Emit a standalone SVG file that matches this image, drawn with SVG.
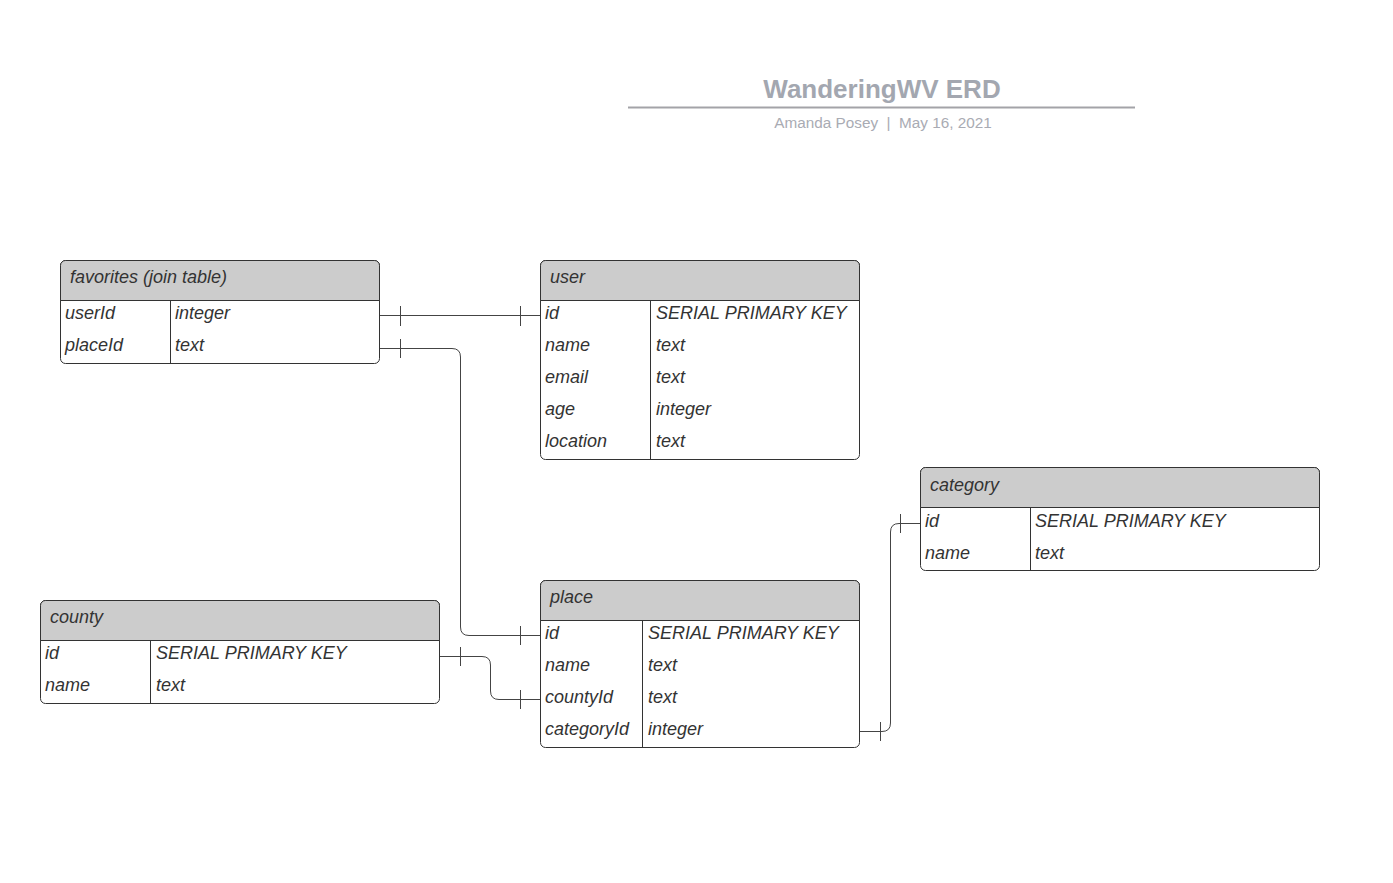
<svg xmlns="http://www.w3.org/2000/svg" width="1393" height="883" viewBox="0 0 1393 883">
<style>
.frame{fill:#ffffff;stroke:#333333;stroke-width:1}
.hdr{fill:#cccccc;stroke:#333333;stroke-width:1}
.div{stroke:#333333;stroke-width:1;fill:none}
.t{font-family:"Liberation Sans",Arial,sans-serif;font-style:italic;font-size:18px;fill:#333333}
.conn{fill:none;stroke:#444444;stroke-width:1}
.title{font-family:"Liberation Sans",Arial,sans-serif;font-weight:bold;font-size:26px;fill:#a3a7b0}
.sub{font-family:"Liberation Sans",Arial,sans-serif;font-size:15.3px;fill:#a9abb3}
</style>
<rect width="1393" height="883" fill="#ffffff"/>
<g id="title">
<text class="title" x="882" y="98" text-anchor="middle">WanderingWV ERD</text>
<line x1="628" y1="107.5" x2="1135" y2="107.5" stroke="#a3a3a8" stroke-width="2"/>
<text class="sub" x="883" y="128" text-anchor="middle" xml:space="preserve">Amanda Posey  |  May 16, 2021</text>
</g>
<g id="favorites">
<rect class="frame" x="60.5" y="260.5" width="319" height="103" rx="5"/>
<path class="hdr" d="M60.5,300.5 V265.5 a5,5 0 0 1 5,-5 H374.5 a5,5 0 0 1 5,5 V300.5 Z"/>
<line class="div" x1="170.5" y1="300.5" x2="170.5" y2="363.5"/>
<text class="t" x="70" y="283">favorites (join table)</text>
<text class="t" x="65" y="319">userId</text><text class="t" x="175" y="319">integer</text>
<text class="t" x="65" y="351">placeId</text><text class="t" x="175" y="351">text</text>
</g>
<g id="user">
<rect class="frame" x="540.5" y="260.5" width="319" height="199" rx="5"/>
<path class="hdr" d="M540.5,300.5 V265.5 a5,5 0 0 1 5,-5 H854.5 a5,5 0 0 1 5,5 V300.5 Z"/>
<line class="div" x1="650.5" y1="300.5" x2="650.5" y2="459.5"/>
<text class="t" x="550" y="283">user</text>
<text class="t" x="545" y="319">id</text><text class="t" x="656" y="319">SERIAL PRIMARY KEY</text>
<text class="t" x="545" y="351">name</text><text class="t" x="656" y="351">text</text>
<text class="t" x="545" y="383">email</text><text class="t" x="656" y="383">text</text>
<text class="t" x="545" y="415">age</text><text class="t" x="656" y="415">integer</text>
<text class="t" x="545" y="447">location</text><text class="t" x="656" y="447">text</text>
</g>
<g id="category">
<rect class="frame" x="920.5" y="467.5" width="399" height="103" rx="5"/>
<path class="hdr" d="M920.5,507.5 V472.5 a5,5 0 0 1 5,-5 H1314.5 a5,5 0 0 1 5,5 V507.5 Z"/>
<line class="div" x1="1030.5" y1="507.5" x2="1030.5" y2="570.5"/>
<text class="t" x="930" y="491">category</text>
<text class="t" x="925" y="527">id</text><text class="t" x="1035" y="527">SERIAL PRIMARY KEY</text>
<text class="t" x="925" y="559">name</text><text class="t" x="1035" y="559">text</text>
</g>
<g id="county">
<rect class="frame" x="40.5" y="600.5" width="399" height="103" rx="5"/>
<path class="hdr" d="M40.5,640.5 V605.5 a5,5 0 0 1 5,-5 H434.5 a5,5 0 0 1 5,5 V640.5 Z"/>
<line class="div" x1="150.5" y1="640.5" x2="150.5" y2="703.5"/>
<text class="t" x="50" y="623">county</text>
<text class="t" x="45" y="659">id</text><text class="t" x="156" y="659">SERIAL PRIMARY KEY</text>
<text class="t" x="45" y="691">name</text><text class="t" x="156" y="691">text</text>
</g>
<g id="place">
<rect class="frame" x="540.5" y="580.5" width="319" height="167" rx="5"/>
<path class="hdr" d="M540.5,620.5 V585.5 a5,5 0 0 1 5,-5 H854.5 a5,5 0 0 1 5,5 V620.5 Z"/>
<line class="div" x1="642.5" y1="620.5" x2="642.5" y2="747.5"/>
<text class="t" x="550" y="603">place</text>
<text class="t" x="545" y="639">id</text><text class="t" x="648" y="639">SERIAL PRIMARY KEY</text>
<text class="t" x="545" y="671">name</text><text class="t" x="648" y="671">text</text>
<text class="t" x="545" y="703">countyId</text><text class="t" x="648" y="703">text</text>
<text class="t" x="545" y="735">categoryId</text><text class="t" x="648" y="735">integer</text>
</g>
<g id="connectors">
<path class="conn" d="M380,315.5 H540"/>
<path class="conn" d="M400.5,306 V326 M520.5,306 V326"/>
<path class="conn" d="M380,348.5 H452 Q460.5,348.5 460.5,357 V627 Q460.5,635.5 469,635.5 H540"/>
<path class="conn" d="M400.5,339 V358 M520.5,626 V645"/>
<path class="conn" d="M440,656.5 H482 Q490.5,656.5 490.5,665 V691 Q490.5,699.5 499,699.5 H540"/>
<path class="conn" d="M460.5,647 V666 M520.5,690 V709"/>
<path class="conn" d="M860,731.5 H882 Q890.5,731.5 890.5,723 V532 Q890.5,523.5 899,523.5 H920"/>
<path class="conn" d="M880.5,722 V741 M900.5,514 V533"/>
</g>
</svg>
